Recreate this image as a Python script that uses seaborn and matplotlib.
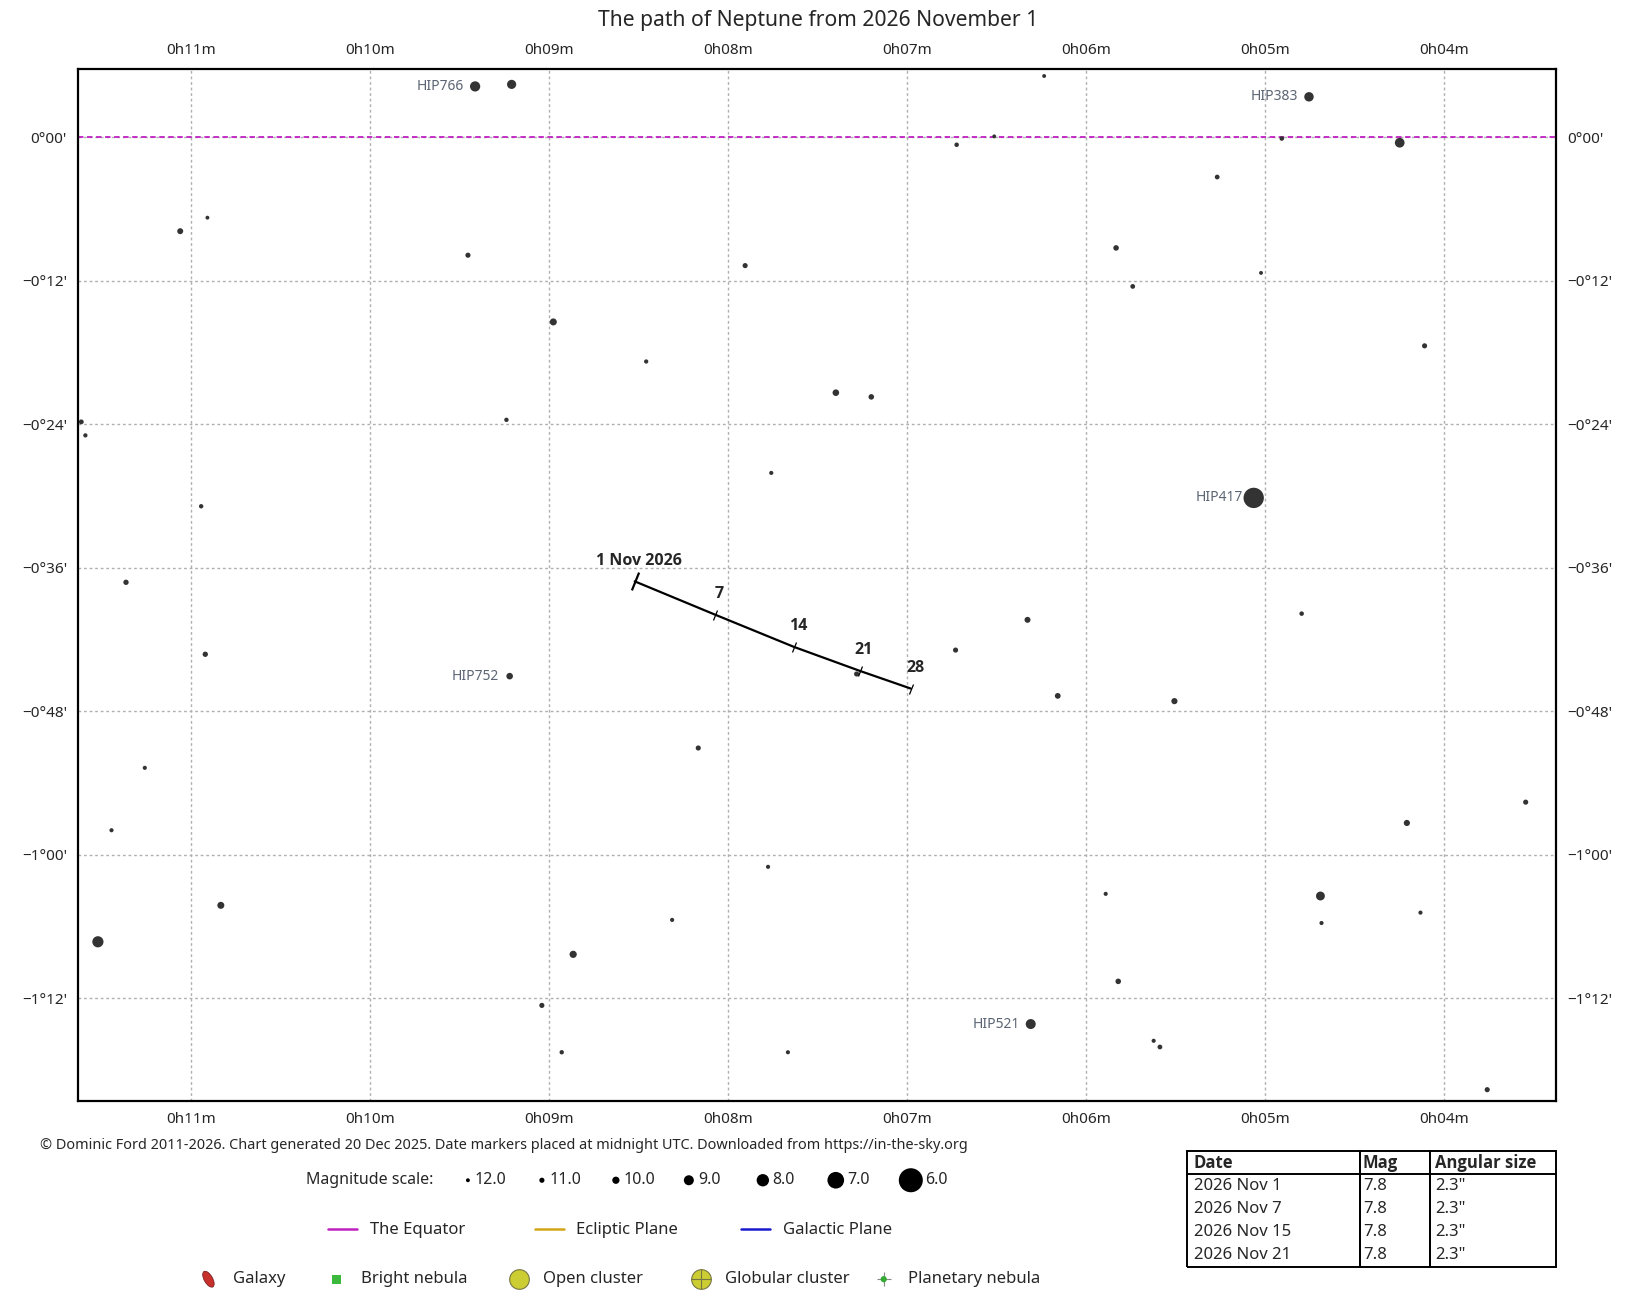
import numpy as np
import matplotlib
matplotlib.use("Agg")
import matplotlib.pyplot as plt
from matplotlib.patches import Ellipse
import seaborn as sns

# --- data: field stars (RA in minutes of 0h, Dec in arcminutes) ---
star_ra = [9.414, 9.210, 6.234, 4.754, 6.513, 6.723, 4.906, 4.247, 5.267, 11.062,
           10.910, 9.454, 7.905, 5.832, 5.022, 5.739, 8.977, 8.458, 4.108, 7.398,
           7.200, 11.615, 11.592, 9.239, 7.759, 5.063, 10.945, 11.365, 4.795, 6.327,
           6.729, 10.922, 9.221, 7.282, 6.158, 5.506, 8.167, 11.260, 3.543, 11.446,
           4.207, 7.777, 5.890, 4.690, 10.835, 8.313, 4.131, 4.684, 11.522, 8.866,
           5.820, 9.041, 6.309, 5.622, 5.587, 8.930, 7.666, 3.758]
star_dec = [4.27, 4.44, 5.14, 3.40, 0.09, -0.61, -0.09, -0.44, -3.31, -7.84,
            -6.71, -9.85, -10.72, -9.24, -11.33, -12.46, -15.43, -18.74, -17.43, -21.35,
            -21.70, -23.79, -24.92, -23.62, -28.06, -30.15, -30.85, -37.21, -39.83, -40.35,
            -42.88, -43.23, -45.06, -44.88, -46.71, -47.15, -51.07, -52.73, -55.60, -57.95,
            -57.34, -61.01, -63.27, -63.45, -64.23, -65.45, -64.84, -65.71, -67.28, -68.33,
            -70.59, -72.60, -74.16, -75.56, -76.08, -76.52, -76.52, -79.65]
star_mag = [8.9, 9.3, 12.0, 9.2, 12.0, 11.5, 11.5, 9.1, 11.3, 10.6,
            12.0, 11.0, 11.0, 10.8, 12.0, 11.3, 10.1, 11.7, 11.0, 10.3,
            10.8, 11.2, 11.7, 11.6, 11.8, 6.5, 11.6, 10.9, 11.5, 10.6,
            11.0, 10.9, 10.3, 11.0, 10.7, 10.5, 11.0, 11.8, 11.0, 11.8,
            10.5, 11.8, 11.8, 9.4, 10.1, 11.8, 11.8, 11.8, 8.5, 10.0,
            10.8, 11.0, 9.0, 11.8, 11.3, 11.6, 11.8, 11.0]

# named Hipparcos stars
hip_names = ["HIP766", "HIP383", "HIP417", "HIP752", "HIP521"]
hip_ra = [9.414, 4.754, 5.063, 9.221, 6.309]
hip_dec = [4.27, 3.40, -30.15, -45.06, -74.16]

# Neptune path
path_day = [1, 7, 14, 21, 28]
path_ra = [8.522, 8.074, 7.631, 7.264, 6.979]
path_dec = [-37.13, -39.91, -42.62, -44.62, -46.10]
path_labels = ["1 Nov 2026", "7", "14", "21", "28"]

# axis ticks
ra_ticks = [11, 10, 9, 8, 7, 6, 5, 4]
ra_labels = ["0h11m", "0h10m", "0h09m", "0h08m", "0h07m", "0h06m", "0h05m", "0h04m"]
dec_ticks = [0, -12, -24, -36, -48, -60, -72]
dec_labels = ["0°00'", "\u22120°12'", "\u22120°24'", "\u22120°36'", "\u22120°48'", "\u22121°00'", "\u22121°12'"]

# legends and table
mag_scale = [12.0, 11.0, 10.0, 9.0, 8.0, 7.0, 6.0]
line_names = ["The Equator", "Ecliptic Plane", "Galactic Plane"]
line_colors = ["#c020c0", "#d4a617", "#1a1ad0"]
table_cols = ["Date", "Mag", "Angular size"]
table_dates = ["2026 Nov 1", "2026 Nov 7", "2026 Nov 15", "2026 Nov 21"]
table_mag = ["7.8", "7.8", "7.8", "7.8"]
table_size = ['2.3"', '2.3"', '2.3"', '2.3"']


def mag_to_s(m):
    d = np.interp(m, [6, 7, 8, 9, 10, 11, 12], [17.3, 12.0, 8.9, 7.2, 5.2, 3.7, 2.8])
    return d ** 2


sns.set_style("white")
plt.rcParams["font.family"] = ["Noto Sans", "DejaVu Sans"]
BOLD = ["Open Sans", "DejaVu Sans"]

fig = plt.figure(figsize=(16.33, 12.99), dpi=100)
ax = fig.add_axes([0.0479, 0.1524, 0.9049, 0.7947])

sns.scatterplot(x=star_ra, y=star_dec, s=mag_to_s(np.array(star_mag)), color="#333333",
                edgecolor="none", legend=False, ax=ax, zorder=3)

for name, r, d in zip(hip_names, hip_ra, hip_dec):
    ax.annotate(name, (r, d), xytext=(-8, 0), textcoords="offset points",
                ha="right", va="center", fontsize=10, color="#5b6573")

# equator
ax.axhline(0, color=line_colors[0], lw=1.3, ls=(0, (3, 2)), zorder=2)

# Neptune track
sns.lineplot(x=path_ra, y=path_dec, sort=False, color="black", lw=1.6, ax=ax, zorder=4)
ax.scatter(path_ra[:1], path_dec[:1], marker=(2, 0, -22), s=190, color="black", lw=1.6, zorder=5)
ax.scatter(path_ra[1:], path_dec[1:], marker=(2, 0, -22), s=60, color="black", lw=0.9, zorder=5)
for lab, r, d in zip(path_labels, path_ra, path_dec):
    ax.annotate(lab, (r, d), xytext=(3, 9), textcoords="offset points",
                ha="center", va="bottom", fontsize=11.5, fontweight="bold", family=BOLD)

ax.set_xlim(11.632, 3.374)
ax.set_ylim(-80.6, 5.75)
ax.set_xticks(ra_ticks)
ax.set_xticklabels(ra_labels)
ax.set_yticks(dec_ticks)
ax.set_yticklabels(dec_labels)
ax.tick_params(length=0, labelsize=11, pad=8, top=True, labeltop=True,
               right=True, labelright=True)
ax.grid(True, color="#b0b0b0", ls=(0, (2, 2)), lw=1)
for sp in ax.spines.values():
    sp.set_color("black")
    sp.set_linewidth(1.6)
ax.set_xlabel("")
ax.set_ylabel("")

fig.text(0.501, 0.984, "The path of Neptune from 2026 November 1", ha="center", va="center",
         fontsize=15.2)

# bottom area overlay in display-like pixel coords
ov = fig.add_axes([0, 0, 1, 1])
ov.set_xlim(0, 1567)
ov.set_ylim(1247, 0)
ov.axis("off")

ov.text(38, 1100, "\u00a9 Dominic Ford 2011-2026. Chart generated 20 Dec 2025. Date markers placed at midnight UTC. Downloaded from https://in-the-sky.org",
        ha="left", va="center", fontsize=10.4)

ov.text(294, 1133, "Magnitude scale:", ha="left", va="center", fontsize=11.5)
mag_x = [449, 520, 591, 661, 732, 802, 874]
ov.scatter(mag_x, [1133] * len(mag_x), s=mag_to_s(np.array(mag_scale)), color="black", edgecolor="none")
for x, m in zip(mag_x, mag_scale):
    off = 5 + np.sqrt(mag_to_s(m)) * 0.5
    ov.text(x + off, 1133, "%.1f" % m, ha="left", va="center", fontsize=11.5)

line_x = [315, 513, 711]
for x, nm, c in zip(line_x, line_names, line_colors):
    ov.plot([x, x + 28], [1180, 1180], color=c, lw=1.8)
    ov.text(x + 40, 1181, nm, ha="left", va="center", fontsize=12)

# deep-sky legend
yo = 1228
ov.add_patch(Ellipse((200, yo), 8, 17, angle=-30, facecolor="#c8302c", edgecolor="#7a2020", lw=0.6))
ov.text(224, yo, "Galaxy", ha="left", va="center", fontsize=12)
ov.scatter([323], [yo], marker="s", s=40, color="#3cb83c", edgecolor="none")
ov.text(346, yo, "Bright nebula", ha="left", va="center", fontsize=12)
ov.scatter([498], [yo], marker="o", s=200, color="#cccc33", edgecolor="#777744", lw=0.8)
ov.text(521, yo, "Open cluster", ha="left", va="center", fontsize=12)
ov.scatter([673], [yo], marker="o", s=200, color="#cccc33", edgecolor="#777744", lw=0.8)
ov.scatter([673], [yo], marker="+", s=200, color="#777744", lw=0.8)
ov.text(696, yo, "Globular cluster", ha="left", va="center", fontsize=12)
ov.scatter([848], [yo], marker="+", s=110, color="#888888", lw=0.8)
ov.scatter([848], [yo], marker="o", s=20, color="#33aa33", edgecolor="none")
ov.text(871, yo, "Planetary nebula", ha="left", va="center", fontsize=12)

# info table
rows = [list(r) for r in zip(table_dates, table_mag, table_size)]
tab = ov.table(cellText=rows, colLabels=table_cols, colWidths=[0.469, 0.189, 0.342],
               cellLoc="left", colLoc="left",
               bbox=[1139 / 1567, 1 - 1216 / 1247, 354 / 1567, 111 / 1247])
tab.auto_set_font_size(False)
nrows = len(rows)
for (r, c), cell in tab.get_celld().items():
    cell.set_fontsize(12)
    cell.PAD = 0.04
    cell.set_linewidth(1.4)
    if r == 0:
        cell.visible_edges = "closed"
        cell.get_text().set_fontweight("bold")
        cell.get_text().set_family(BOLD)
    elif r == nrows:
        cell.visible_edges = "BLR"
    else:
        cell.visible_edges = "LR"

fig.savefig("out.png", dpi=100)
